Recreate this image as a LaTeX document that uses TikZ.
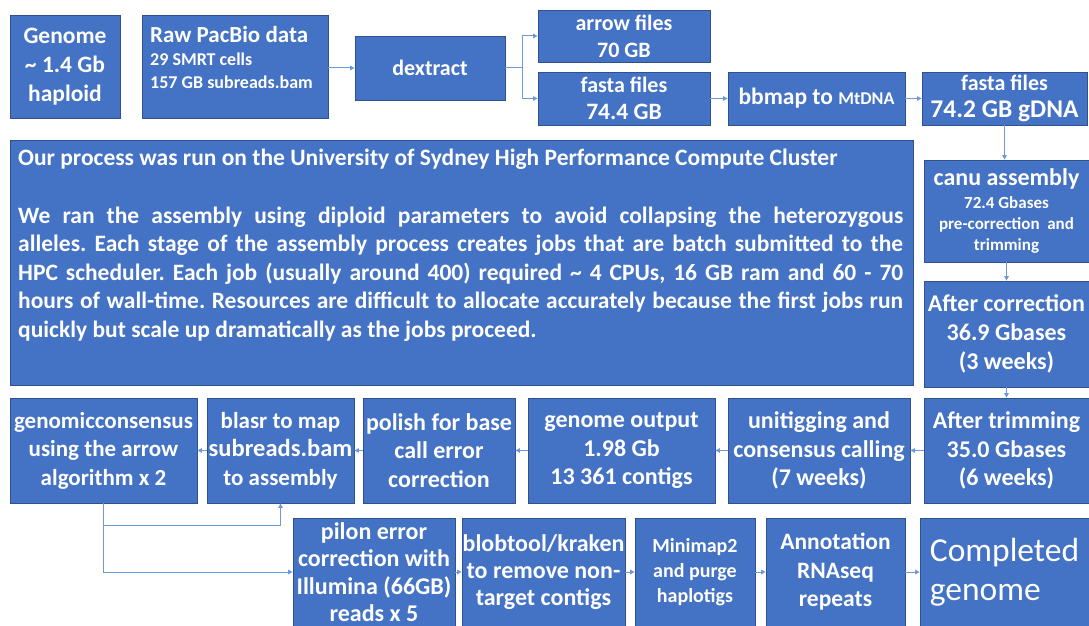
\documentclass[tikz,border=0pt]{standalone}
\usepackage{fontspec}
\setmainfont{Carlito}
\usetikzlibrary{arrows.meta}
\definecolor{boxc}{HTML}{4472C4}
\definecolor{bordc}{HTML}{2F528F}
\definecolor{linec}{HTML}{6F98D8}
\newcommand\bx[7][]{\node[box,minimum width={#5-#3},minimum height={#6-#4},#1] (#2) at ({(#3+#5)/2},{(#4+#6)/2}) {#7};}
\newcommand\fs[2]{\fontsize{#1}{#2}\selectfont}
\frenchspacing
\begin{document}
\begin{tikzpicture}[x=1pt,y=-1pt,
  box/.style={draw=bordc,fill=boxc,line width=0.8pt,text=white,font=\bfseries\fs{24}{28.5},align=center,inner sep=0pt},
  txt/.style={text=white,inner sep=0pt},
  conn/.style={draw=linec,line width=1pt,-{Triangle[length=4.5pt,width=4.5pt]}}]
\useasboundingbox (0,0) rectangle (1089,626);
\fill[white] (0,0) rectangle (1089,626);

% top row
\bx[font=\bfseries\fs{23.5}{29}]{genome}{10}{15}{120}{118}{Genome\\\textasciitilde\ 1.4 Gb\\haploid}
\bx{raw}{142}{15}{328}{118}{}
\node[txt,anchor=north west,align=left,font=\bfseries\fs{18}{23}] (rawtxt) at (150,26)
  {{\fs{23}{26}Raw PacBio data}\\[0pt]29 SMRT cells\\157 GB subreads.bam};
\bx[font=\bfseries\fs{22}{27}]{dextract}{355}{36}{505}{100}{dextract}
\bx[font=\bfseries\fs{22}{27}]{arrow}{538}{10}{710}{62}{arrow files\\70 GB}
\bx[font=\bfseries\fs{22}{27}]{fasta1}{538}{72}{710}{125}{fasta files\\{\fs{23.5}{27}74.4 GB}}
\bx[font=\bfseries\fs{23.5}{27}]{bbmap}{728}{72}{905}{125}{bbmap to {\fs{18}{20}MtDNA}}
\bx[font=\bfseries\fs{22}{27}]{fasta2}{922}{72}{1087}{125}{fasta files\\{\fs{25.5}{27}74.2 GB gDNA}}

% big text box
\bx{big}{10}{140}{913}{385}{}
\node[txt,anchor=north west,text width=885pt,align=justify,font=\bfseries\fs{23.5}{28.5}] (bigtxt) at (18,149)
{Our process was run on the University of Sydney High Performance Compute Cluster\\[29pt]
We ran the assembly using diploid parameters to avoid collapsing the heterozygous\linebreak
alleles. Each stage of the assembly process creates jobs that are batch submitted to the\linebreak
HPC scheduler. Each job (usually around 400) required \textasciitilde\ 4 CPUs, 16 GB ram and 60 - 70\linebreak
hours of wall-time. Resources are difficult to allocate accurately because the first jobs run\linebreak
quickly but scale up dramatically as the jobs proceed.};

% right column
\bx[font=\bfseries\fs{17}{21}]{canu}{924}{160}{1089}{262}{{\fs{24}{27}canu assembly}\\[2pt]72.4 Gbases\\pre-correction~ and\\trimming}
\bx[font=\bfseries\fs{24}{29},yshift=-3pt]{corr}{924}{278}{1089}{384}{After correction\\36.9 Gbases\\(3 weeks)}
\bx[font=\bfseries\fs{24}{28.5}]{trim}{924}{398}{1089}{503}{After trimming\\35.0 Gbases\\(6 weeks)}

% middle row
\bx{unit}{728}{398}{910}{503}{unitigging and\\consensus calling\\(7 weeks)}
\bx{gout}{528}{398}{715}{503}{genome output\\1.98 Gb\\13 361 contigs}
\bx{polish}{363}{398}{515}{503}{polish for base\\call error\\correction}
\bx[font=\bfseries\fs{23}{28.5}]{blasr}{207}{398}{354}{503}{blasr to map\\{\fs{24.5}{28.5}subreads.bam}\\to assembly}
\bx[font=\bfseries\fs{23}{28.5}]{gcons}{10}{398}{197}{503}{genomicconsensus\\using the arrow\\algorithm x 2}

% bottom row
\bx[font=\bfseries\fs{24}{27.5}]{pilon}{293}{518}{455}{626}{pilon error\\correction with\\Illumina (66GB)\\reads x 5}
\bx[font=\bfseries\fs{24}{27}]{blob}{462}{518}{625}{626}{blobtool/kraken\\to remove non-\\target contigs}
\bx[font=\bfseries\fs{20}{25}]{mini}{635}{518}{755}{626}{Minimap2\\and purge\\haplotigs}
\bx[font=\bfseries\fs{23.5}{28.5}]{annot}{766}{518}{905}{626}{Annotation\\RNAseq\\repeats}
\bx[align=left,font=\mdseries\fs{33.5}{39}]{comp}{920}{518}{1089}{626}{Completed\\genome}

% connectors
\draw[conn] (raw.east |- dextract.west) -- (dextract.west);
\path (dextract.east) ++(17,0) coordinate (br);
\draw[conn] (dextract.east) -- (br) |- (arrow.west);
\draw[conn] (br) |- (fasta1.west);
\draw[conn] (fasta1) -- (bbmap);
\draw[conn] (bbmap) -- (fasta2);
\draw[conn] (fasta2.south) -- (fasta2.south |- canu.north);
\draw[conn] (canu) -- (corr);
\draw[conn] (corr) -- (trim);
\draw[conn] (trim) -- (unit);
\draw[conn] (unit) -- (gout);
\draw[conn] (gout) -- (polish);
\draw[conn] (polish) -- (blasr);
\draw[conn] (blasr) -- (gcons);
\path (gcons.south) ++(0,22) coordinate (j1);
\draw[conn] (gcons.south) -- (j1) -| (blasr.south);
\draw[conn] (j1) |- (pilon.west);
\draw[conn] (pilon) -- (blob);
\draw[conn] (blob) -- (mini);
\draw[conn] (mini) -- (annot);
\draw[conn] (annot) -- (comp);
\end{tikzpicture}
\end{document}
